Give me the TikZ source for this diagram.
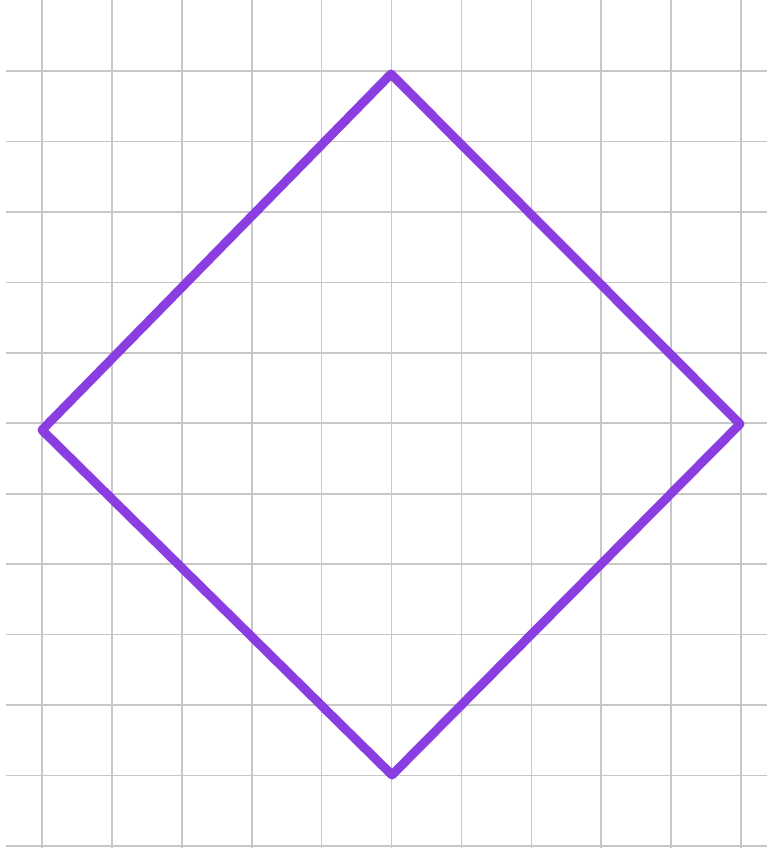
\documentclass[tikz,border=0pt]{standalone}
\begin{document}
\begin{tikzpicture}[x=1pt,y=-1pt,
  gridline/.style={draw=black!22,line width=1.6pt},
  shapeline/.style={draw=shapecol,line width=9pt,line join=round,line cap=round}]
\definecolor{shapecol}{RGB}{138,62,226}
\useasboundingbox (0,0) rectangle (767,848);
\fill[white] (0,0) rectangle (767,848);
\foreach \i in {0,...,10}{
  \draw[gridline] ({42+69.9*\i},0) -- ({42+69.9*\i},848);
}
\foreach \j in {0,...,11}{
  \draw[gridline] (6,{71+70.45*\j}) -- (767,{71+70.45*\j});
}
\coordinate (top) at (391,74);
\coordinate (left) at (42,430);
\coordinate (right) at (740,424);
\coordinate (bottom) at (392,775);
\draw[shapeline] (top) -- (right) -- (bottom) -- (left) -- cycle;
\end{tikzpicture}
\end{document}
